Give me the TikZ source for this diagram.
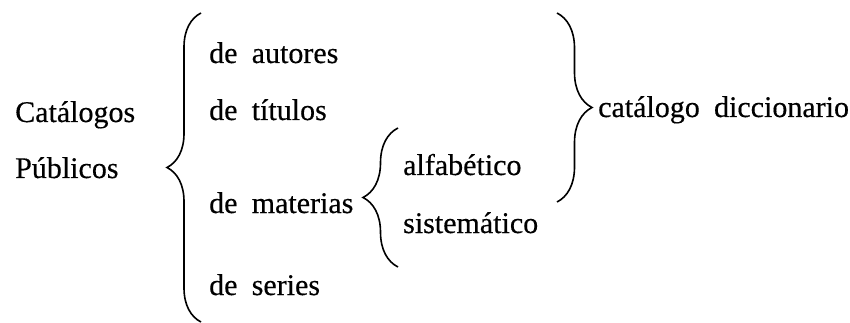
\documentclass[tikz,border=0pt]{standalone}
\usepackage{fontspec}
\setmainfont[WordSpace=1.9,FakeBold=0.4]{Liberation Serif}
\usetikzlibrary{decorations.pathreplacing}
\begin{document}
\begin{tikzpicture}[x=1pt,y=-1pt,
  lbl/.style={anchor=base west,inner sep=0pt,font=\fontsize{30}{35}\selectfont},
  bracestyle/.style={decorate,decoration={brace,amplitude=#1},line width=1.6pt}]
\useasboundingbox (0,0) rectangle (850,323);
% left column
\node[lbl] (cat) at (15,122) {Catálogos};
\node[lbl] (pub) at (15,178) {Públicos};
% big brace
\coordinate (b1top) at (201,13);
\coordinate (b1bot) at (201,322);
\draw[bracestyle=34pt] (b1bot) -- (b1top);
% second column
\node[lbl] (aut) at (209,63) {de autores};
\node[lbl] (tit) at (209,120) {de títulos};
\node[lbl] (mat) at (209,213) {de materias};
\node[lbl] (ser) at (209,295) {de series};
% small brace
\coordinate (b2top) at (398,128);
\coordinate (b2bot) at (398,267);
\draw[bracestyle=35pt] (b2bot) -- (b2top);
\node[lbl] (alf) at (403,175) {alfabético};
\node[lbl] (sis) at (403,233) {sistemático};
% right brace
\coordinate (b3top) at (557,13);
\coordinate (b3bot) at (557,202);
\draw[bracestyle=35pt] (b3top) -- (b3bot);
\node[lbl] (dic) at (598,117) {catálogo diccionario};
\end{tikzpicture}
\end{document}
